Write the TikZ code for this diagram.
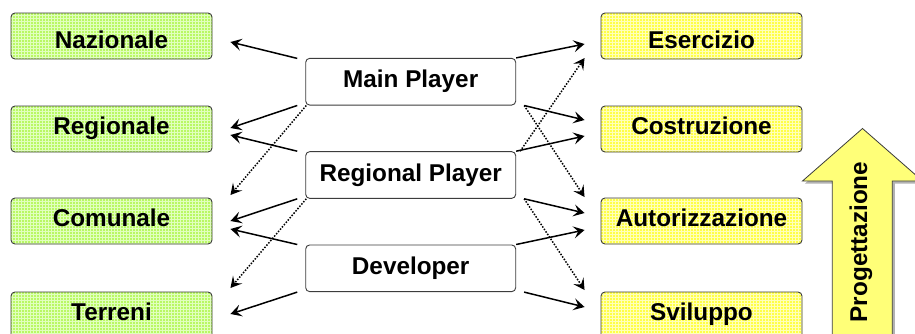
\documentclass[tikz,border=0pt]{standalone}
\usepackage{fontspec}
\setmainfont{Liberation Sans}
\usetikzlibrary{arrows.meta,calc,patterns}
\definecolor{lgreen}{RGB}{185,248,100}
\definecolor{lgreengrid}{RGB}{225,255,190}
\definecolor{lyellow}{RGB}{255,255,70}
\definecolor{lyellowgrid}{RGB}{255,255,185}
\definecolor{arrowyellow}{RGB}{255,255,120}
\definecolor{bord}{RGB}{60,60,60}
\begin{document}
\begin{tikzpicture}[x=1pt,y=-1pt,
  lbl/.style={font=\bfseries\fontsize{24.3}{24}\selectfont},
  lvl/.style={lbl, draw=bord, line width=0.9pt, rounded corners=4pt,
    minimum width=201pt, minimum height=46pt, inner sep=0pt,
    text height=17.2pt, text depth=5.4pt},
  toprow/.style={text height=25pt, text depth=0pt},
  gbox/.style={lvl, preaction={fill=lgreen}, pattern=grid, pattern color=lgreengrid},
  ybox/.style={lvl, preaction={fill=lyellow}, pattern=grid, pattern color=lyellowgrid},
  mid/.style={lbl, draw=bord, line width=0.9pt, rounded corners=4pt, fill=white,
    minimum width=210pt, minimum height=46.7pt, inner sep=0pt,
    text height=17.2pt, text depth=5pt},
  link/.style={line width=1.5pt, -{Stealth[length=11pt,width=12pt,inset=4.5pt]}},
  dlink/.style={link, dash pattern=on 1.5pt off 1.5pt},
  bigarrow/.style={fill=arrowyellow, draw=bord, line width=0.8pt}
]
\useasboundingbox (0,0) rectangle (915,333);
\clip (0,0) rectangle (915,333);

% big arrow
\fill[gray!60] (865,131) -- (925,183.5) -- (894.8,183.5) -- (894.8,350) -- (834.8,350) -- (834.8,183.5) -- (805,183.5) -- cycle;
\draw[bigarrow] (862.5,128.5) -- (922.5,181) -- (892.3,181) -- (892.3,345) -- (832.3,345) -- (832.3,181) -- (802.5,181) -- cycle;
\node[lbl, rotate=90] (prog) at (861,242) {Progettazione};

% left column
\node[gbox, toprow] (naz) at (111.5,36) {Nazionale};
\node[gbox] (reg) at (111.5,129) {Regionale};
\node[gbox] (com) at (111.5,221) {Comunale};
\node[gbox] (ter) at (111.5,315) {Terreni};

% right column
\node[ybox, toprow] (ese) at (701.5,36) {Esercizio};
\node[ybox] (cos) at (701.5,129) {Costruzione};
\node[ybox] (aut) at (701.5,221) {Autorizzazione};
\node[ybox] (svi) at (701.5,315) {Sviluppo};

% middle
\node[mid] (mp) at (410.7,81.7) {Main Player};
\node[mid] (rp) at (410.7,175) {Regional Player};
\node[mid] (dev) at (410.7,268.3) {Developer};

% left connectors
\draw[link] ($(mp.north west)+(-8,0.5)$) -- ($(naz.east)+(18,6)$);
\draw[link] ($(mp.south west)+(-8,0)$) -- ($(reg.east)+(18,-1)$);
\draw[link] ($(rp.north west)+(-8,0)$) -- ($(reg.east)+(18,6)$);
\draw[dlink] ($(mp.south west)+(1,0)$) -- ($(com.east)+(18,-26)$);
\draw[link] ($(rp.south west)+(-8,0)$) -- ($(com.east)+(18,0)$);
\draw[link] ($(dev.north west)+(-8,0)$) -- ($(com.east)+(18,8)$);
\draw[dlink] ($(rp.south west)+(1,0)$) -- ($(ter.east)+(18,-27)$);
\draw[link] ($(dev.south west)+(-8,0)$) -- ($(ter.east)+(18,-1)$);

% right connectors
\draw[link] (mp.north east) -- ($(ese.west)+(-16,8)$);
\draw[dlink] ($(rp.north east)+(4,0)$) -- ($(ese.west)+(-16,22)$);
\draw[link] ($(mp.south east)+(8,0)$) -- ($(cos.west)+(-16,-9)$);
\draw[link] (rp.north east) -- ($(cos.west)+(-16,7)$);
\draw[dlink] ($(mp.south east)+(8,0)$) -- ($(aut.west)+(-16,-24)$);
\draw[link] ($(rp.south east)+(8,0)$) -- ($(aut.west)+(-16,-8)$);
\draw[link] (dev.north east) -- ($(aut.west)+(-16,9)$);
\draw[dlink] ($(rp.south east)+(8,0)$) -- ($(svi.west)+(-16,-25)$);
\draw[link] ($(dev.south east)+(8,0)$) -- ($(svi.west)+(-16,-8)$);
\end{tikzpicture}
\end{document}
